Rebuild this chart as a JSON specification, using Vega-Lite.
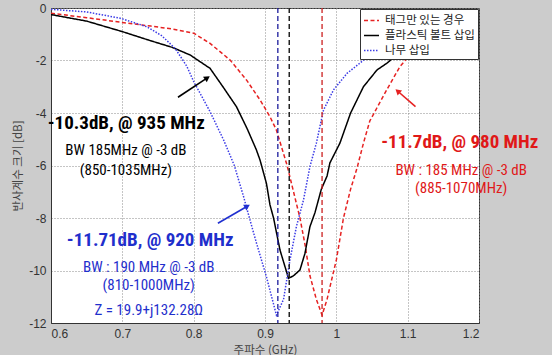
{
  "$schema": "https://vega.github.io/schema/vega-lite/v6.json",
  "autosize": {"type": "none"},
  "width": 428,
  "height": 315,
  "padding": {"left": 51, "top": 8, "right": 73, "bottom": 32},
  "background": "#cccccc",
  "config": {
    "view": {"fill": "white", "stroke": "#333333", "strokeWidth": 1},
    "axis": {
      "labelFont": "Liberation Sans", "labelFontSize": 12, "labelColor": "#333333",
      "titleFont": "Noto Sans CJK KR", "titleFontSize": 11.5, "titleFontWeight": "normal", "titleColor": "#444444",
      "grid": true, "gridColor": "#8a8a8a", "gridDash": [1, 2], "gridOpacity": 1, "gridWidth": 1,
      "ticks": false, "domainColor": "#333333"
    }
  },
  "datasets": {
    "curves": [
      {"s": "태그만 있는 경우", "f": 0.6, "db": -0.2},
      {"s": "태그만 있는 경우", "f": 0.65, "db": -0.37},
      {"s": "태그만 있는 경우", "f": 0.7, "db": -0.55},
      {"s": "태그만 있는 경우", "f": 0.74, "db": -0.69},
      {"s": "태그만 있는 경우", "f": 0.77, "db": -0.8},
      {"s": "태그만 있는 경우", "f": 0.8, "db": -0.96},
      {"s": "태그만 있는 경우", "f": 0.823, "db": -1.35},
      {"s": "태그만 있는 경우", "f": 0.851, "db": -1.98},
      {"s": "태그만 있는 경우", "f": 0.874, "db": -2.74},
      {"s": "태그만 있는 경우", "f": 0.893, "db": -3.5},
      {"s": "태그만 있는 경우", "f": 0.907, "db": -4.14},
      {"s": "태그만 있는 경우", "f": 0.916, "db": -4.65},
      {"s": "태그만 있는 경우", "f": 0.931, "db": -6.0},
      {"s": "태그만 있는 경우", "f": 0.94, "db": -7.0},
      {"s": "태그만 있는 경우", "f": 0.949, "db": -8.0},
      {"s": "태그만 있는 경우", "f": 0.956, "db": -9.0},
      {"s": "태그만 있는 경우", "f": 0.963, "db": -10.2},
      {"s": "태그만 있는 경우", "f": 0.972, "db": -11.1},
      {"s": "태그만 있는 경우", "f": 0.98, "db": -11.7},
      {"s": "태그만 있는 경우", "f": 0.987, "db": -11.1},
      {"s": "태그만 있는 경우", "f": 0.993, "db": -10.4},
      {"s": "태그만 있는 경우", "f": 1.0, "db": -9.6},
      {"s": "태그만 있는 경우", "f": 1.01, "db": -8.0},
      {"s": "태그만 있는 경우", "f": 1.02, "db": -6.9},
      {"s": "태그만 있는 경우", "f": 1.029, "db": -6.1},
      {"s": "태그만 있는 경우", "f": 1.038, "db": -5.15},
      {"s": "태그만 있는 경우", "f": 1.047, "db": -4.3},
      {"s": "태그만 있는 경우", "f": 1.057, "db": -3.8},
      {"s": "태그만 있는 경우", "f": 1.071, "db": -3.1},
      {"s": "태그만 있는 경우", "f": 1.089, "db": -2.24},
      {"s": "태그만 있는 경우", "f": 1.103, "db": -1.79},
      {"s": "태그만 있는 경우", "f": 1.12, "db": -1.2},
      {"s": "태그만 있는 경우", "f": 1.14, "db": -0.7},
      {"s": "플라스틱 볼트 삽입", "f": 0.6, "db": -0.25},
      {"s": "플라스틱 볼트 삽입", "f": 0.65, "db": -0.5},
      {"s": "플라스틱 볼트 삽입", "f": 0.7, "db": -0.9},
      {"s": "플라스틱 볼트 삽입", "f": 0.74, "db": -1.25},
      {"s": "플라스틱 볼트 삽입", "f": 0.77, "db": -1.5},
      {"s": "플라스틱 볼트 삽입", "f": 0.795, "db": -1.79},
      {"s": "플라스틱 볼트 삽입", "f": 0.823, "db": -2.3},
      {"s": "플라스틱 볼트 삽입", "f": 0.841, "db": -3.0},
      {"s": "플라스틱 볼트 삽입", "f": 0.86, "db": -3.76},
      {"s": "플라스틱 볼트 삽입", "f": 0.875, "db": -4.6},
      {"s": "플라스틱 볼트 삽입", "f": 0.888, "db": -5.41},
      {"s": "플라스틱 볼트 삽입", "f": 0.893, "db": -5.79},
      {"s": "플라스틱 볼트 삽입", "f": 0.902, "db": -6.68},
      {"s": "플라스틱 볼트 삽입", "f": 0.907, "db": -7.5},
      {"s": "플라스틱 볼트 삽입", "f": 0.912, "db": -8.0},
      {"s": "플라스틱 볼트 삽입", "f": 0.921, "db": -9.22},
      {"s": "플라스틱 볼트 삽입", "f": 0.933, "db": -10.3},
      {"s": "플라스틱 볼트 삽입", "f": 0.94, "db": -10.2},
      {"s": "플라스틱 볼트 삽입", "f": 0.949, "db": -9.98},
      {"s": "플라스틱 볼트 삽입", "f": 0.956, "db": -9.35},
      {"s": "플라스틱 볼트 삽입", "f": 0.963, "db": -8.33},
      {"s": "플라스틱 볼트 삽입", "f": 0.97, "db": -7.8},
      {"s": "플라스틱 볼트 삽입", "f": 0.979, "db": -6.9},
      {"s": "플라스틱 볼트 삽입", "f": 0.987, "db": -6.4},
      {"s": "플라스틱 볼트 삽입", "f": 0.991, "db": -5.9},
      {"s": "플라스틱 볼트 삽입", "f": 1.005, "db": -5.15},
      {"s": "플라스틱 볼트 삽입", "f": 1.02, "db": -4.0},
      {"s": "플라스틱 볼트 삽입", "f": 1.038, "db": -3.0},
      {"s": "플라스틱 볼트 삽입", "f": 1.057, "db": -2.36},
      {"s": "플라스틱 볼트 삽입", "f": 1.071, "db": -2.1},
      {"s": "플라스틱 볼트 삽입", "f": 1.082, "db": -1.85},
      {"s": "플라스틱 볼트 삽입", "f": 1.1, "db": -1.5},
      {"s": "플라스틱 볼트 삽입", "f": 1.12, "db": -1.1},
      {"s": "나무 삽입", "f": 0.6, "db": -0.05},
      {"s": "나무 삽입", "f": 0.65, "db": -0.15},
      {"s": "나무 삽입", "f": 0.697, "db": -0.39},
      {"s": "나무 삽입", "f": 0.734, "db": -0.71},
      {"s": "나무 삽입", "f": 0.755, "db": -1.05},
      {"s": "나무 삽입", "f": 0.774, "db": -1.54},
      {"s": "나무 삽입", "f": 0.79, "db": -2.2},
      {"s": "나무 삽입", "f": 0.8, "db": -2.8},
      {"s": "나무 삽입", "f": 0.814, "db": -3.5},
      {"s": "나무 삽입", "f": 0.823, "db": -3.95},
      {"s": "나무 삽입", "f": 0.842, "db": -5.03},
      {"s": "나무 삽입", "f": 0.857, "db": -6.0},
      {"s": "나무 삽입", "f": 0.87, "db": -7.19},
      {"s": "나무 삽입", "f": 0.879, "db": -8.08},
      {"s": "나무 삽입", "f": 0.888, "db": -8.95},
      {"s": "나무 삽입", "f": 0.902, "db": -10.24},
      {"s": "나무 삽입", "f": 0.916, "db": -11.7},
      {"s": "나무 삽입", "f": 0.926, "db": -11.1},
      {"s": "나무 삽입", "f": 0.935, "db": -9.6},
      {"s": "나무 삽입", "f": 0.944, "db": -8.33},
      {"s": "나무 삽입", "f": 0.954, "db": -7.31},
      {"s": "나무 삽입", "f": 0.963, "db": -6.04},
      {"s": "나무 삽입", "f": 0.972, "db": -5.15},
      {"s": "나무 삽입", "f": 0.982, "db": -3.89},
      {"s": "나무 삽입", "f": 0.996, "db": -3.12},
      {"s": "나무 삽입", "f": 1.015, "db": -2.49},
      {"s": "나무 삽입", "f": 1.033, "db": -2.1},
      {"s": "나무 삽입", "f": 1.047, "db": -1.79},
      {"s": "나무 삽입", "f": 1.065, "db": -1.4},
      {"s": "나무 삽입", "f": 1.08, "db": -1.0}
    ],
    "vlines": [
      {"s": "나무 삽입", "f": 0.918},
      {"s": "플라스틱 볼트 삽입", "f": 0.934},
      {"s": "태그만 있는 경우", "f": 0.98}
    ],
    "notes": [
      {"s": "플라스틱 볼트 삽입", "k": "big", "f": 0.7055, "db": -4.38, "t": "-10.3dB, @ 935 MHz"},
      {"s": "태그만 있는 경우", "k": "big", "f": 1.173, "db": -5.1, "t": "-11.7dB, @ 980 MHz"},
      {"s": "나무 삽입", "k": "big", "f": 0.739, "db": -8.84, "t": "-11.71dB, @ 920 MHz"},
      {"s": "플라스틱 볼트 삽입", "k": "small", "f": 0.705, "db": -5.41, "t": "BW 185MHz @ -3 dB"},
      {"s": "플라스틱 볼트 삽입", "k": "small", "f": 0.705, "db": -6.17, "t": "(850-1035MHz)"},
      {"s": "태그만 있는 경우", "k": "small", "f": 1.175, "db": -6.17, "t": "BW : 185 MHz @ -3 dB"},
      {"s": "태그만 있는 경우", "k": "small", "f": 1.175, "db": -6.86, "t": "(885-1070MHz)"},
      {"s": "나무 삽입", "k": "small", "f": 0.737, "db": -9.87, "t": "BW : 190 MHz @ -3 dB"},
      {"s": "나무 삽입", "k": "small", "f": 0.737, "db": -10.55, "t": "(810-1000MHz)"},
      {"s": "나무 삽입", "k": "small", "f": 0.737, "db": -11.5, "t": "Z = 19.9+j132.28Ω"}
    ],
    "arrows": [
      {"s": "플라스틱 볼트 삽입", "f0": 0.778, "d0": -3.4, "f1": 0.818, "d1": -2.68},
      {"s": "나무 삽입", "f0": 0.834, "d0": -8.2, "f1": 0.874, "d1": -7.57},
      {"s": "태그만 있는 경우", "f0": 1.111, "d0": -3.76, "f1": 1.087, "d1": -3.19}
    ]
  },
  "layer": [
    {
      "data": {"name": "curves"},
      "mark": {"type": "line", "strokeWidth": 1.5, "clip": true},
      "encoding": {
        "x": {"field": "f", "type": "quantitative", "title": "주파수 (GHz)",
          "scale": {"domain": [0.6, 1.2], "nice": false, "zero": false},
          "axis": {"values": [0.6, 0.7, 0.8, 0.9, 1.0, 1.1, 1.2], "labelExpr": "format(datum.value, '~g')", "labelPadding": 5, "titlePadding": 5}},
        "y": {"field": "db", "type": "quantitative", "title": "반사계수 크기 [dB]",
          "scale": {"domain": [-12, 0], "nice": false, "zero": false},
          "axis": {"values": [-12, -10, -8, -6, -4, -2, 0], "labelExpr": "toString(datum.value)", "labelPadding": 5, "titlePadding": 5}},
        "stroke": {"field": "s", "type": "nominal",
          "scale": {"domain": ["태그만 있는 경우", "플라스틱 볼트 삽입", "나무 삽입"], "range": ["#e62222", "#000000", "#3c3ce6"]},
          "legend": {"title": null, "orient": "top-right", "offset": 1, "fillColor": "white", "strokeColor": "#333333",
            "padding": 3, "labelFont": "Noto Sans CJK KR", "labelFontSize": 11.5, "labelColor": "#222222",
            "symbolType": "stroke", "symbolSize": 225, "symbolStrokeWidth": 1.6, "rowPadding": 1, "labelOffset": 5}},
        "strokeDash": {"field": "s", "type": "nominal",
          "scale": {"domain": ["태그만 있는 경우", "플라스틱 볼트 삽입", "나무 삽입"], "range": [[4, 2.5], [1, 0], [1.5, 1.5]]},
          "legend": {"title": null, "orient": "top-right", "offset": 1, "fillColor": "white", "strokeColor": "#333333",
            "padding": 3, "labelFont": "Noto Sans CJK KR", "labelFontSize": 11.5, "labelColor": "#222222",
            "symbolType": "stroke", "symbolSize": 225, "symbolStrokeWidth": 1.6, "rowPadding": 1, "labelOffset": 5}}
      }
    },
    {
      "data": {"name": "vlines"},
      "transform": [{"filter": "datum.s == '나무 삽입'"}],
      "mark": {"type": "rule", "color": "#1c1c9c", "strokeDash": [5, 3], "strokeWidth": 1.3},
      "encoding": {"x": {"field": "f", "type": "quantitative"}}
    },
    {
      "data": {"name": "vlines"},
      "transform": [{"filter": "datum.s == '플라스틱 볼트 삽입'"}],
      "mark": {"type": "rule", "color": "#222222", "strokeDash": [5, 3], "strokeWidth": 1.5},
      "encoding": {"x": {"field": "f", "type": "quantitative"}}
    },
    {
      "data": {"name": "vlines"},
      "transform": [{"filter": "datum.s == '태그만 있는 경우'"}],
      "mark": {"type": "rule", "color": "#cc2020", "strokeDash": [5, 3], "strokeWidth": 1.3},
      "encoding": {"x": {"field": "f", "type": "quantitative"}}
    },
    {
      "data": {"name": "arrows"},
      "transform": [{"filter": "datum.s == '플라스틱 볼트 삽입'"}],
      "mark": {"type": "rule", "color": "#000000", "strokeWidth": 1.6},
      "encoding": {
        "x": {"field": "f0", "type": "quantitative"}, "y": {"field": "d0", "type": "quantitative"},
        "x2": {"field": "f1"}, "y2": {"field": "d1"}
      }
    },
    {
      "data": {"name": "arrows"},
      "transform": [{"filter": "datum.s == '플라스틱 볼트 삽입'"}],
      "mark": {"type": "point", "shape": "triangle", "filled": true, "color": "#000000", "opacity": 1, "size": 45, "angle": 56},
      "encoding": {"x": {"field": "f1", "type": "quantitative"}, "y": {"field": "d1", "type": "quantitative"}}
    },
    {
      "data": {"name": "arrows"},
      "transform": [{"filter": "datum.s == '나무 삽입'"}],
      "mark": {"type": "rule", "color": "#2030d0", "strokeWidth": 1.6},
      "encoding": {
        "x": {"field": "f0", "type": "quantitative"}, "y": {"field": "d0", "type": "quantitative"},
        "x2": {"field": "f1"}, "y2": {"field": "d1"}
      }
    },
    {
      "data": {"name": "arrows"},
      "transform": [{"filter": "datum.s == '나무 삽입'"}],
      "mark": {"type": "point", "shape": "triangle", "filled": true, "color": "#2030d0", "opacity": 1, "size": 45, "angle": 60},
      "encoding": {"x": {"field": "f1", "type": "quantitative"}, "y": {"field": "d1", "type": "quantitative"}}
    },
    {
      "data": {"name": "arrows"},
      "transform": [{"filter": "datum.s == '태그만 있는 경우'"}],
      "mark": {"type": "rule", "color": "#e62222", "strokeWidth": 1.6},
      "encoding": {
        "x": {"field": "f0", "type": "quantitative"}, "y": {"field": "d0", "type": "quantitative"},
        "x2": {"field": "f1"}, "y2": {"field": "d1"}
      }
    },
    {
      "data": {"name": "arrows"},
      "transform": [{"filter": "datum.s == '태그만 있는 경우'"}],
      "mark": {"type": "point", "shape": "triangle", "filled": true, "color": "#e62222", "opacity": 1, "size": 45, "angle": 312},
      "encoding": {"x": {"field": "f1", "type": "quantitative"}, "y": {"field": "d1", "type": "quantitative"}}
    },
    {
      "data": {"name": "notes"},
      "transform": [{"filter": "datum.k == 'big' && datum.s == '플라스틱 볼트 삽입'"}],
      "mark": {"type": "text", "color": "#000000", "font": "Liberation Sans Narrow, Roboto Condensed, DejaVu Sans Condensed, sans-serif", "fontWeight": "bold", "fontSize": 19, "align": "center", "baseline": "middle"},
      "encoding": {"x": {"field": "f", "type": "quantitative"}, "y": {"field": "db", "type": "quantitative"}, "text": {"field": "t"}}
    },
    {
      "data": {"name": "notes"},
      "transform": [{"filter": "datum.k == 'big' && datum.s == '태그만 있는 경우'"}],
      "mark": {"type": "text", "color": "#e01818", "font": "Liberation Sans Narrow, Roboto Condensed, DejaVu Sans Condensed, sans-serif", "fontWeight": "bold", "fontSize": 19, "align": "center", "baseline": "middle"},
      "encoding": {"x": {"field": "f", "type": "quantitative"}, "y": {"field": "db", "type": "quantitative"}, "text": {"field": "t"}}
    },
    {
      "data": {"name": "notes"},
      "transform": [{"filter": "datum.k == 'big' && datum.s == '나무 삽입'"}],
      "mark": {"type": "text", "color": "#1f2fcc", "font": "Liberation Sans Narrow, Roboto Condensed, DejaVu Sans Condensed, sans-serif", "fontWeight": "bold", "fontSize": 19, "align": "center", "baseline": "middle"},
      "encoding": {"x": {"field": "f", "type": "quantitative"}, "y": {"field": "db", "type": "quantitative"}, "text": {"field": "t"}}
    },
    {
      "data": {"name": "notes"},
      "transform": [{"filter": "datum.k == 'small' && datum.s == '플라스틱 볼트 삽입'"}],
      "mark": {"type": "text", "color": "#000000", "font": "Liberation Sans Narrow, Roboto Condensed, DejaVu Sans Condensed, sans-serif", "fontSize": 15, "align": "center", "baseline": "middle"},
      "encoding": {"x": {"field": "f", "type": "quantitative"}, "y": {"field": "db", "type": "quantitative"}, "text": {"field": "t"}}
    },
    {
      "data": {"name": "notes"},
      "transform": [{"filter": "datum.k == 'small' && datum.s == '태그만 있는 경우'"}],
      "mark": {"type": "text", "color": "#e01818", "font": "Liberation Sans Narrow, Roboto Condensed, DejaVu Sans Condensed, sans-serif", "fontSize": 15, "align": "center", "baseline": "middle"},
      "encoding": {"x": {"field": "f", "type": "quantitative"}, "y": {"field": "db", "type": "quantitative"}, "text": {"field": "t"}}
    },
    {
      "data": {"name": "notes"},
      "transform": [{"filter": "datum.k == 'small' && datum.s == '나무 삽입'"}],
      "mark": {"type": "text", "color": "#1f2fcc", "font": "Liberation Sans Narrow, Roboto Condensed, DejaVu Sans Condensed, sans-serif", "fontSize": 15, "align": "center", "baseline": "middle"},
      "encoding": {"x": {"field": "f", "type": "quantitative"}, "y": {"field": "db", "type": "quantitative"}, "text": {"field": "t"}}
    }
  ]
}
